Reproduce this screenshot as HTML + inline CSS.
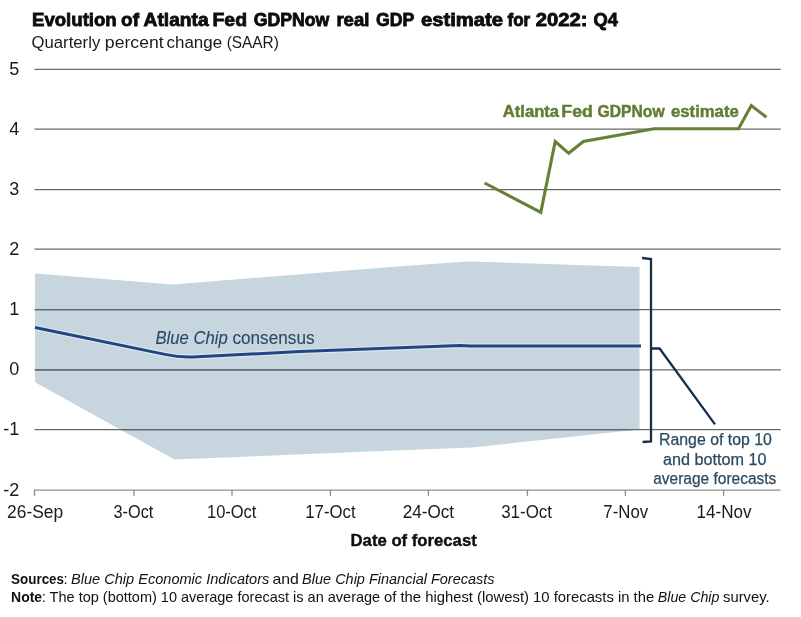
<!DOCTYPE html>
<html><head><meta charset="utf-8">
<style>
html,body{margin:0;padding:0;background:#fff;width:801px;height:617px;overflow:hidden}
svg{display:block;will-change:transform}
text{font-family:"Liberation Sans",sans-serif}
</style></head>
<body>
<svg width="801" height="617" viewBox="0 0 801 617">
<defs>
<clipPath id="shc"><polygon points="35,273.5 173,284.5 400,266.2 468.7,261.5 639.5,267 639.5,429.4 472,447.5 400,450.3 174.4,459.6 35,382.3"/></clipPath>
</defs>
<!-- shaded range -->
<polygon fill="#c7d5de" points="35,273.5 173,284.5 400,266.2 468.7,261.5 639.5,267 639.5,429.4 472,447.5 400,450.3 174.4,459.6 35,382.3"/>

<!-- gridlines -->
<g stroke="#6a6a6a" stroke-width="1.25">
<line x1="34.5" y1="69.4" x2="780.8" y2="69.4"/>
<line x1="34.5" y1="129.0" x2="780.8" y2="129.0"/>
<line x1="34.5" y1="189.5" x2="780.8" y2="189.5"/>
<line x1="34.5" y1="249.0" x2="780.8" y2="249.0"/>
<line x1="34.5" y1="309.5" x2="780.8" y2="309.5"/>
<line x1="34.5" y1="369.8" x2="780.8" y2="369.8"/>
<line x1="34.5" y1="429.5" x2="780.8" y2="429.5"/>
</g>
<g stroke="#5a6771" stroke-width="1.25" clip-path="url(#shc)">
<line x1="34.5" y1="309.5" x2="780.8" y2="309.5"/>
<line x1="34.5" y1="369.8" x2="780.8" y2="369.8"/>
<line x1="34.5" y1="429.5" x2="780.8" y2="429.5"/>
</g>
<!-- x axis -->
<g stroke="#8f8f8f" stroke-width="1.4">
<line x1="34" y1="490.1" x2="780.5" y2="490.1"/>
<line x1="34.5" y1="490" x2="34.5" y2="495.8"/>
<line x1="134.0" y1="490" x2="134.0" y2="495.8"/>
<line x1="232.0" y1="490" x2="232.0" y2="495.8"/>
<line x1="330.4" y1="490" x2="330.4" y2="495.8"/>
<line x1="428.4" y1="490" x2="428.4" y2="495.8"/>
<line x1="527.4" y1="490" x2="527.4" y2="495.8"/>
<line x1="625.4" y1="490" x2="625.4" y2="495.8"/>
<line x1="723.6" y1="490" x2="723.6" y2="495.8"/>
</g>

<!-- y labels -->
<g font-size="18" fill="#1a1a1a">
<text x="19.3" y="74.5" text-anchor="end">5</text>
<text x="19.3" y="134.5" text-anchor="end">4</text>
<text x="19.3" y="194.5" text-anchor="end">3</text>
<text x="19.3" y="254.5" text-anchor="end">2</text>
<text x="19.3" y="314.5" text-anchor="end">1</text>
<text x="19.3" y="374.5" text-anchor="end">0</text>
<text x="19.3" y="434.5" text-anchor="end">-1</text>
<text x="19.3" y="495.5" text-anchor="end">-2</text>
</g>

<!-- blue consensus line -->
<path fill="none" stroke="#dce7ef" stroke-width="5.2" stroke-linejoin="round" clip-path="url(#shc)" d="M35,327.5 L165,354.4 Q181,357.8 197,356.7 L300,351.6 L460,345.6 L470,345.9 L641,345.9"/>
<path fill="none" stroke="#1f4680" stroke-width="3.0" stroke-linejoin="round" d="M35,327.5 L165,354.4 Q181,357.8 197,356.7 L300,351.6 L460,345.6 L470,345.9 L641,345.9"/>

<!-- green GDPNow line -->
<polyline fill="none" stroke="#658137" stroke-width="3.1" stroke-linejoin="miter" points="484.6,183 540.8,212.3 555.2,141.5 568.7,153.3 583.3,141.5 654,128.8 738.5,128.8 751.3,105.5 766.4,117.2"/>

<!-- bracket -->
<g fill="none" stroke="#14304b" stroke-width="2.3">
<polyline points="642,258 651,259 651,441.5 642.6,442"/>
<polyline points="651,348.5 659.6,348.5 715,424.4"/>
</g>

<!-- texts -->
<text x="32.02" y="25.6" font-size="19.0" font-weight="bold" font-style="normal" fill="#0d0d0d" stroke="#0d0d0d" stroke-width="0.85" textLength="84.73" lengthAdjust="spacingAndGlyphs">Evolution</text>
<text x="121.10" y="25.6" font-size="19.0" font-weight="bold" font-style="normal" fill="#0d0d0d" stroke="#0d0d0d" stroke-width="0.85" textLength="17.94" lengthAdjust="spacingAndGlyphs">of</text>
<text x="143.60" y="25.6" font-size="19.0" font-weight="bold" font-style="normal" fill="#0d0d0d" stroke="#0d0d0d" stroke-width="0.85" textLength="65.10" lengthAdjust="spacingAndGlyphs">Atlanta</text>
<text x="212.48" y="25.6" font-size="19.0" font-weight="bold" font-style="normal" fill="#0d0d0d" stroke="#0d0d0d" stroke-width="0.85" textLength="34.52" lengthAdjust="spacingAndGlyphs">Fed</text>
<text x="253.70" y="25.6" font-size="19.0" font-weight="bold" font-style="normal" fill="#0d0d0d" stroke="#0d0d0d" stroke-width="0.85" textLength="75.53" lengthAdjust="spacingAndGlyphs">GDPNow</text>
<text x="336.42" y="25.6" font-size="19.0" font-weight="bold" font-style="normal" fill="#0d0d0d" stroke="#0d0d0d" stroke-width="0.85" textLength="32.97" lengthAdjust="spacingAndGlyphs">real</text>
<text x="376.00" y="25.6" font-size="19.0" font-weight="bold" font-style="normal" fill="#0d0d0d" stroke="#0d0d0d" stroke-width="0.85" textLength="38.37" lengthAdjust="spacingAndGlyphs">GDP</text>
<text x="421.00" y="25.6" font-size="19.0" font-weight="bold" font-style="normal" fill="#0d0d0d" stroke="#0d0d0d" stroke-width="0.85" textLength="81.92" lengthAdjust="spacingAndGlyphs">estimate</text>
<text x="507.50" y="25.6" font-size="19.0" font-weight="bold" font-style="normal" fill="#0d0d0d" stroke="#0d0d0d" stroke-width="0.85" textLength="22.70" lengthAdjust="spacingAndGlyphs">for</text>
<text x="535.80" y="25.6" font-size="19.0" font-weight="bold" font-style="normal" fill="#0d0d0d" stroke="#0d0d0d" stroke-width="0.85" textLength="51.71" lengthAdjust="spacingAndGlyphs">2022:</text>
<text x="593.50" y="25.6" font-size="19.0" font-weight="bold" font-style="normal" fill="#0d0d0d" stroke="#0d0d0d" stroke-width="0.85" textLength="24.38" lengthAdjust="spacingAndGlyphs">Q4</text>
<text x="31.53" y="47.5" font-size="17.3" font-weight="normal" font-style="normal" fill="#1a1a1a" textLength="68.74" lengthAdjust="spacingAndGlyphs">Quarterly</text>
<text x="104.88" y="47.5" font-size="17.3" font-weight="normal" font-style="normal" fill="#1a1a1a" textLength="58.79" lengthAdjust="spacingAndGlyphs">percent</text>
<text x="166.52" y="47.5" font-size="17.3" font-weight="normal" font-style="normal" fill="#1a1a1a" textLength="55.57" lengthAdjust="spacingAndGlyphs">change</text>
<text x="226.71" y="47.5" font-size="17.3" font-weight="normal" font-style="normal" fill="#1a1a1a" textLength="52.09" lengthAdjust="spacingAndGlyphs">(SAAR)</text>
<text x="7.03" y="517.7" font-size="18" font-weight="normal" font-style="normal" fill="#1a1a1a" textLength="56.18" lengthAdjust="spacingAndGlyphs">26-Sep</text>
<text x="113.50" y="517.7" font-size="18" font-weight="normal" font-style="normal" fill="#1a1a1a" textLength="39.82" lengthAdjust="spacingAndGlyphs">3-Oct</text>
<text x="206.98" y="517.7" font-size="18" font-weight="normal" font-style="normal" fill="#1a1a1a" textLength="49.44" lengthAdjust="spacingAndGlyphs">10-Oct</text>
<text x="305.27" y="517.7" font-size="18" font-weight="normal" font-style="normal" fill="#1a1a1a" textLength="50.36" lengthAdjust="spacingAndGlyphs">17-Oct</text>
<text x="402.75" y="517.7" font-size="18" font-weight="normal" font-style="normal" fill="#1a1a1a" textLength="51.38" lengthAdjust="spacingAndGlyphs">24-Oct</text>
<text x="501.16" y="517.7" font-size="18" font-weight="normal" font-style="normal" fill="#1a1a1a" textLength="50.87" lengthAdjust="spacingAndGlyphs">31-Oct</text>
<text x="603.37" y="517.7" font-size="18" font-weight="normal" font-style="normal" fill="#1a1a1a" textLength="44.75" lengthAdjust="spacingAndGlyphs">7-Nov</text>
<text x="696.45" y="517.7" font-size="18" font-weight="normal" font-style="normal" fill="#1a1a1a" textLength="55.08" lengthAdjust="spacingAndGlyphs">14-Nov</text>
<text x="350.57" y="545.6" font-size="16.3" font-weight="bold" font-style="normal" fill="#0d0d0d" stroke="#0d0d0d" stroke-width="0.35" textLength="126.19" lengthAdjust="spacingAndGlyphs">Date of forecast</text>
<text x="155.46" y="343.8" font-size="17.7" font-weight="normal" font-style="italic" fill="#2a4866" stroke="#2a4866" stroke-width="0.1" textLength="72.20" lengthAdjust="spacingAndGlyphs">Blue Chip</text>
<text x="232.43" y="343.8" font-size="17.7" font-weight="normal" font-style="normal" fill="#2a4866" stroke="#2a4866" stroke-width="0.1" textLength="82.12" lengthAdjust="spacingAndGlyphs">consensus</text>
<text x="502.80" y="117.4" font-size="17.1" font-weight="bold" font-style="normal" fill="#627d35" stroke="#627d35" stroke-width="0.5" textLength="56.24" lengthAdjust="spacingAndGlyphs">Atlanta</text>
<text x="561.37" y="117.4" font-size="17.1" font-weight="bold" font-style="normal" fill="#627d35" stroke="#627d35" stroke-width="0.5" textLength="31.44" lengthAdjust="spacingAndGlyphs">Fed</text>
<text x="597.60" y="117.4" font-size="17.1" font-weight="bold" font-style="normal" fill="#627d35" stroke="#627d35" stroke-width="0.5" textLength="67.01" lengthAdjust="spacingAndGlyphs">GDPNow</text>
<text x="671.00" y="117.4" font-size="17.1" font-weight="bold" font-style="normal" fill="#627d35" stroke="#627d35" stroke-width="0.5" textLength="67.77" lengthAdjust="spacingAndGlyphs">estimate</text>
<text x="659.01" y="445.1" font-size="16.0" font-weight="normal" font-style="normal" fill="#2b4a60" stroke="#2b4a60" stroke-width="0.25" textLength="112.86" lengthAdjust="spacingAndGlyphs">Range of top 10</text>
<text x="662.99" y="465.2" font-size="16.0" font-weight="normal" font-style="normal" fill="#2b4a60" stroke="#2b4a60" stroke-width="0.25" textLength="103.61" lengthAdjust="spacingAndGlyphs">and bottom 10</text>
<text x="653.23" y="484.1" font-size="16.0" font-weight="normal" font-style="normal" fill="#2b4a60" stroke="#2b4a60" stroke-width="0.25" textLength="123.15" lengthAdjust="spacingAndGlyphs">average forecasts</text>
<text x="11.09" y="583.7" font-size="14.8" font-weight="bold" font-style="normal" fill="#111" textLength="52.98" lengthAdjust="spacingAndGlyphs">Sources</text>
<text x="63.60" y="583.7" font-size="14.8" font-weight="normal" font-style="normal" fill="#111" textLength="4.12" lengthAdjust="spacingAndGlyphs">:</text>
<text x="71.02" y="583.7" font-size="14.8" font-weight="normal" font-style="italic" fill="#111" textLength="198.28" lengthAdjust="spacingAndGlyphs">Blue Chip Economic Indicators</text>
<text x="272.53" y="583.7" font-size="14.8" font-weight="normal" font-style="normal" fill="#111" textLength="26.42" lengthAdjust="spacingAndGlyphs">and</text>
<text x="302.12" y="583.7" font-size="14.8" font-weight="normal" font-style="italic" fill="#111" textLength="192.43" lengthAdjust="spacingAndGlyphs">Blue Chip Financial Forecasts</text>
<text x="11.05" y="601.7" font-size="14.8" font-weight="bold" font-style="normal" fill="#111" textLength="31.09" lengthAdjust="spacingAndGlyphs">Note</text>
<text x="41.82" y="601.7" font-size="14.8" font-weight="normal" font-style="normal" fill="#111" textLength="338.36" lengthAdjust="spacingAndGlyphs">: The top (bottom) 10 average forecast is an average</text>
<text x="384.00" y="601.7" font-size="14.8" font-weight="normal" font-style="normal" fill="#111" textLength="270.18" lengthAdjust="spacingAndGlyphs">of the highest (lowest) 10 forecasts in the</text>
<text x="657.74" y="601.7" font-size="14.8" font-weight="normal" font-style="italic" fill="#111" textLength="61.73" lengthAdjust="spacingAndGlyphs">Blue Chip</text>
<text x="723.00" y="601.7" font-size="14.8" font-weight="normal" font-style="normal" fill="#111" textLength="46.61" lengthAdjust="spacingAndGlyphs">survey.</text>
</svg>
</body></html>
